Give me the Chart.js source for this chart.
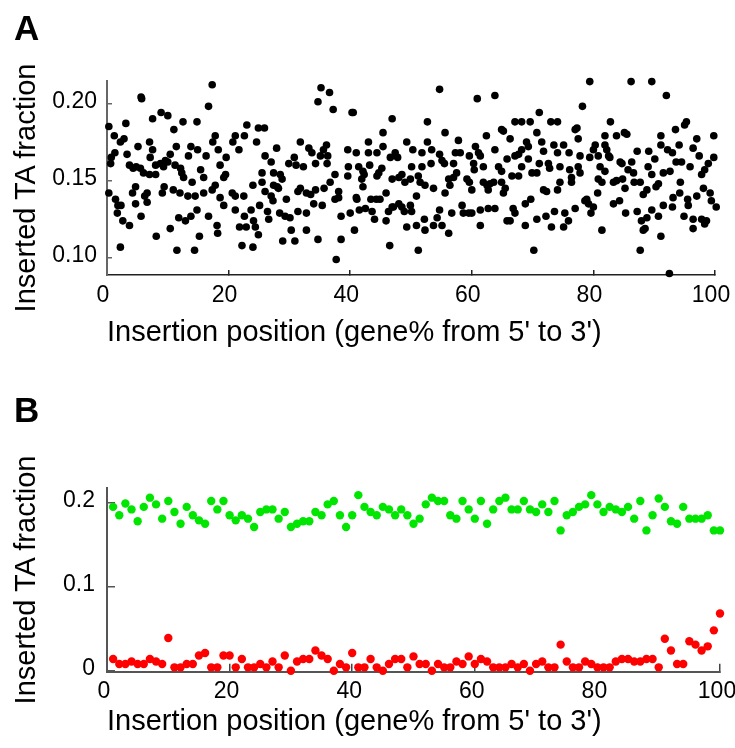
<!DOCTYPE html>
<html><head><meta charset="utf-8">
<script src="https://cdn.jsdelivr.net/npm/chart.js@4/dist/chart.umd.min.js"></script>
<style>
html,body{margin:0;padding:0;background:#fff;}
#wrap{position:relative;width:735px;height:748px;overflow:hidden;font-family:"Liberation Sans",Arial,sans-serif;}
canvas{position:absolute;left:0;}
#cA{top:0}
#cB{top:374px}
.lbl{position:absolute;font-weight:bold;font-size:35px;line-height:1;color:#000}
.ytitle{position:absolute;font-size:29px;line-height:1;white-space:nowrap;transform:translate(-50%,-50%) rotate(-90deg);color:#000}
</style></head><body>
<div id="wrap">
<canvas id="cA" width="735" height="374"></canvas>
<canvas id="cB" width="735" height="374"></canvas>
<div class="lbl" style="left:14px;top:10px">A</div>
<div class="lbl" style="left:14px;top:392px">B</div>
<div class="ytitle" style="left:24.5px;top:188px">Inserted TA fraction</div>
<div class="ytitle" style="left:24.5px;top:580px">Inserted TA fraction</div>
</div>
<script>
// ---------- Panel A: [insertion position (gene %), inserted TA fraction] ----------
const pointsA = [
[0.3,0.185],[1.2,0.179],[2.2,0.175],[2.8,0.177],[3.1,0.187],[5.6,0.204],[5.7,0.203],[17.3,0.212],[16.7,0.198],[7.5,0.190],[8.9,0.194],[10.0,0.192],[11.0,0.183],[12.5,0.188],[14.8,0.188],[17.8,0.179],[17.4,0.175],[7.0,0.175],[5.1,0.172],[11.4,0.172],[13.8,0.172],[14.9,0.170],[18.3,0.170],[1.3,0.168],[0.7,0.165],[0.6,0.161],[3.3,0.167],[3.7,0.160],[4.3,0.158],[4.8,0.159],[5.5,0.158],[6.0,0.155],[7.0,0.154],[8.0,0.154],[7.1,0.165],[7.5,0.170],[8.0,0.160],[8.8,0.161],[9.6,0.163],[10.4,0.167],[9.3,0.159],[10.0,0.162],[11.2,0.160],[12.1,0.158],[12.3,0.155],[12.6,0.152],[13.4,0.166],[14.0,0.149],[15.4,0.157],[15.9,0.152],[16.3,0.166],[18.6,0.160],[19.2,0.152],[0.3,0.142],[1.4,0.138],[1.8,0.134],[2.3,0.134],[1.7,0.129],[4.7,0.146],[4.2,0.142],[4.7,0.135],[6.6,0.142],[6.2,0.140],[6.6,0.136],[5.6,0.127],[2.6,0.124],[3.7,0.121],[9.4,0.146],[9.1,0.142],[10.9,0.144],[12.0,0.142],[13.3,0.140],[14.5,0.140],[15.9,0.142],[17.3,0.144],[17.8,0.147],[18.6,0.139],[19.2,0.134],[11.8,0.126],[12.9,0.124],[13.8,0.127],[14.8,0.131],[16.7,0.127],[18.1,0.121],[18.2,0.116],[10.4,0.119],[8.1,0.114],[15.2,0.114],[2.2,0.107],[11.5,0.105],[14.4,0.105],
[35.2,0.210],[36.6,0.207],[34.7,0.201],[37.2,0.196],[23.0,0.186],[24.9,0.184],[25.9,0.184],[21.1,0.179],[22.6,0.179],[20.7,0.175],[24.6,0.175],[21.7,0.170],[27.9,0.171],[31.8,0.175],[33.2,0.171],[33.7,0.168],[36.1,0.173],[35.6,0.170],[36.3,0.166],[35.1,0.166],[19.6,0.165],[26.0,0.166],[27.0,0.162],[29.9,0.161],[30.8,0.165],[31.1,0.160],[32.3,0.159],[34.3,0.161],[36.2,0.161],[25.5,0.155],[27.4,0.155],[28.5,0.154],[19.5,0.154],[24.0,0.147],[25.5,0.149],[26.0,0.143],[27.4,0.147],[28.0,0.146],[28.8,0.151],[28.2,0.145],[31.8,0.145],[31.4,0.143],[32.8,0.142],[33.5,0.141],[34.3,0.144],[35.7,0.145],[36.7,0.149],[37.5,0.154],[38.1,0.143],[20.6,0.142],[21.1,0.140],[22.5,0.140],[29.5,0.138],[27.3,0.137],[27.0,0.140],[25.1,0.134],[34.0,0.135],[35.4,0.134],[37.5,0.138],[38.1,0.139],[21.1,0.131],[22.6,0.127],[23.7,0.131],[26.4,0.130],[28.4,0.129],[29.3,0.127],[30.1,0.126],[31.4,0.130],[32.8,0.129],[38.5,0.127],[24.1,0.124],[24.4,0.120],[24.9,0.115],[21.8,0.120],[22.9,0.120],[26.6,0.125],[30.3,0.118],[32.8,0.118],[28.9,0.111],[30.9,0.111],[34.7,0.112],[38.5,0.112],[22.2,0.108],[24.0,0.107],[37.7,0.099],
[54.7,0.209],[40.3,0.194],[40.5,0.194],[46.9,0.190],[52.7,0.188],[45.4,0.181],[55.6,0.181],[43.0,0.175],[39.6,0.170],[41.0,0.168],[43.0,0.168],[44.4,0.168],[45.4,0.172],[47.4,0.168],[49.3,0.175],[50.3,0.170],[51.8,0.168],[52.7,0.175],[53.4,0.170],[54.7,0.167],[57.8,0.176],[57.3,0.168],[58.1,0.168],[39.7,0.159],[39.6,0.153],[41.4,0.159],[42.1,0.156],[43.2,0.160],[44.7,0.155],[45.2,0.158],[46.6,0.165],[47.8,0.165],[50.1,0.159],[51.8,0.159],[53.3,0.161],[55.5,0.161],[55.1,0.163],[57.0,0.161],[57.5,0.155],[41.9,0.151],[42.3,0.154],[42.1,0.146],[44.4,0.153],[46.9,0.151],[48.0,0.152],[48.5,0.154],[49.0,0.149],[49.9,0.151],[51.2,0.153],[51.5,0.149],[52.3,0.147],[53.7,0.145],[56.2,0.151],[56.4,0.147],[57.0,0.152],[41.0,0.139],[41.1,0.138],[43.4,0.138],[44.3,0.138],[44.9,0.138],[45.9,0.142],[46.9,0.133],[48.0,0.135],[48.5,0.133],[48.9,0.130],[49.9,0.134],[50.1,0.130],[50.9,0.140],[55.6,0.142],[40.0,0.129],[41.5,0.131],[42.5,0.132],[43.6,0.130],[44.0,0.125],[45.9,0.124],[46.3,0.130],[47.1,0.133],[49.3,0.120],[50.9,0.121],[52.2,0.125],[52.3,0.118],[53.7,0.121],[54.7,0.131],[54.3,0.126],[55.1,0.121],[56.2,0.116],[56.7,0.129],[40.7,0.118],[46.5,0.108],[51.2,0.105],[58.4,0.134],[58.6,0.129],
[60.9,0.203],[63.8,0.205],[71.1,0.194],[78.2,0.198],[67.1,0.188],[68.2,0.188],[69.6,0.188],[73.0,0.188],[74.1,0.188],[64.9,0.183],[65.2,0.182],[70.7,0.181],[62.4,0.179],[66.3,0.177],[77.3,0.184],[77.5,0.177],[77.0,0.183],[60.6,0.172],[61.1,0.168],[61.4,0.166],[59.6,0.166],[63.8,0.170],[69.0,0.175],[69.3,0.172],[68.2,0.170],[67.7,0.167],[67.1,0.166],[71.5,0.175],[71.8,0.169],[73.5,0.173],[75.1,0.173],[74.1,0.168],[76.0,0.168],[77.8,0.166],[60.3,0.161],[60.4,0.157],[61.9,0.159],[64.4,0.159],[64.9,0.156],[65.8,0.164],[68.2,0.159],[69.3,0.164],[71.1,0.161],[72.6,0.161],[72.8,0.158],[74.5,0.159],[76.1,0.157],[76.4,0.152],[77.5,0.159],[77.8,0.155],[59.2,0.151],[59.6,0.149],[61.9,0.149],[62.5,0.147],[62.7,0.144],[63.0,0.148],[63.6,0.149],[64.9,0.149],[65.5,0.145],[65.2,0.142],[66.6,0.153],[67.7,0.153],[69.9,0.155],[70.7,0.155],[74.5,0.149],[76.4,0.149],[60.0,0.144],[71.8,0.144],[72.3,0.143],[74.1,0.144],[59.5,0.129],[60.0,0.129],[61.4,0.131],[61.4,0.121],[62.7,0.132],[63.8,0.132],[66.8,0.132],[67.1,0.129],[68.8,0.135],[69.7,0.138],[65.8,0.124],[66.3,0.124],[68.8,0.121],[70.7,0.125],[72.2,0.127],[73.6,0.130],[75.3,0.129],[75.9,0.124],[75.1,0.120],[77.0,0.132],[73.1,0.120],[70.2,0.105],[78.6,0.137],
[79.4,0.214],[86.2,0.214],[89.6,0.214],[92.0,0.205],[82.8,0.188],[95.3,0.188],[95.0,0.186],[93.5,0.183],[85.5,0.180],[85.1,0.181],[83.8,0.179],[81.9,0.179],[99.8,0.179],[97.0,0.177],[91.1,0.179],[80.3,0.173],[80.0,0.170],[81.9,0.173],[82.2,0.170],[87.2,0.169],[89.1,0.169],[91.1,0.173],[92.2,0.170],[93.0,0.168],[94.1,0.173],[96.4,0.171],[97.4,0.166],[99.8,0.165],[82.5,0.166],[82.7,0.165],[80.8,0.166],[79.4,0.165],[84.4,0.162],[84.7,0.161],[86.3,0.162],[90.1,0.164],[93.6,0.162],[94.5,0.162],[95.9,0.159],[98.9,0.161],[98.3,0.157],[97.8,0.154],[81.1,0.159],[81.9,0.156],[85.7,0.157],[86.6,0.155],[89.0,0.159],[89.6,0.154],[91.5,0.155],[92.6,0.156],[80.8,0.151],[81.4,0.149],[83.3,0.149],[83.8,0.150],[84.8,0.151],[86.7,0.149],[87.7,0.149],[90.7,0.148],[90.3,0.146],[88.8,0.144],[88.2,0.141],[85.2,0.145],[94.3,0.149],[98.1,0.145],[99.2,0.142],[97.0,0.140],[94.2,0.142],[93.1,0.139],[95.5,0.138],[80.7,0.142],[78.9,0.138],[79.2,0.135],[80.0,0.133],[79.6,0.129],[83.3,0.135],[84.3,0.137],[85.3,0.129],[87.2,0.130],[89.6,0.131],[91.5,0.134],[93.0,0.133],[95.6,0.134],[99.4,0.137],[100.2,0.133],[87.9,0.124],[88.8,0.126],[88.5,0.119],[88.2,0.118],[90.7,0.127],[94.9,0.127],[96.4,0.125],[97.8,0.125],[98.6,0.124],[96.4,0.119],[98.3,0.122],[81.4,0.118],[91.1,0.114],[87.7,0.105],[92.5,0.090]
];
const ticksA_x = [0, 20, 40, 60, 80, 100];
const ticksA_y = [0.10, 0.15, 0.20];

// ---------- Panel B ----------
const positionsB = [1,2,3,4,5,6,7,8,9,10,11,12,13,14,15,16,17,18,19,20,21,22,23,24,25,26,27,28,29,30,31,32,33,34,35,36,37,38,39,40,41,42,43,44,45,46,47,48,49,50,51,52,53,54,55,56,57,58,59,60,61,62,63,64,65,66,67,68,69,70,71,72,73,74,75,76,77,78,79,80,81,82,83,84,85,86,87,88,89,90,91,92,93,94,95,96,97,98,99,100];
const fracGreen = [0.195,0.185,0.199,0.192,0.178,0.195,0.206,0.198,0.181,0.202,0.189,0.175,0.195,0.185,0.179,0.175,0.202,0.192,0.202,0.185,0.179,0.185,0.181,0.171,0.189,0.192,0.192,0.181,0.189,0.171,0.175,0.178,0.178,0.189,0.185,0.198,0.202,0.185,0.171,0.185,0.209,0.195,0.189,0.185,0.195,0.192,0.185,0.192,0.185,0.175,0.181,0.198,0.206,0.202,0.202,0.185,0.181,0.202,0.192,0.181,0.202,0.175,0.192,0.202,0.206,0.192,0.192,0.202,0.192,0.189,0.198,0.189,0.202,0.167,0.185,0.189,0.195,0.198,0.209,0.198,0.189,0.195,0.192,0.189,0.195,0.181,0.202,0.167,0.185,0.205,0.195,0.178,0.175,0.195,0.181,0.181,0.181,0.185,0.167,0.167];
const fracRed = [0.014,0.008,0.008,0.011,0.008,0.008,0.014,0.011,0.008,0.039,0.004,0.004,0.008,0.008,0.018,0.021,0.004,0.004,0.018,0.018,0.004,0.014,0.004,0.004,0.008,0.004,0.011,0.004,0.018,0,0.011,0.014,0.014,0.024,0.018,0.014,0,0.008,0.004,0.021,0.004,0.004,0.014,0.004,0,0.008,0.014,0.014,0.004,0.017,0.008,0.008,0,0.008,0.004,0.004,0.011,0.008,0.017,0.008,0.014,0.011,0.004,0.004,0.004,0.008,0.004,0.008,0,0.008,0.011,0.004,0.004,0.031,0.011,0.004,0.004,0.011,0.008,0.004,0.004,0.004,0.011,0.014,0.014,0.011,0.011,0.014,0.014,0.004,0.038,0.024,0.008,0.008,0.035,0.031,0.024,0.029,0.048,0.068];
const ticksB_x = [0, 20, 40, 60, 80, 100];
const ticksB_y = [0, 0.1, 0.2];

const xTitle = "Insertion position (gene% from 5' to 3')";
const FONT = "'Liberation Sans', Arial, Helvetica, sans-serif";

function fitX(h) { return s => { s.height = h; s.paddingLeft = 0; s.paddingRight = 0; }; }
function fitY(w) { return s => { s.width = w; s.paddingTop = 0; s.paddingBottom = 0; }; }
function useTicks(list) { return s => { s.ticks = list.map(v => ({ value: v })); }; }

const common = {
  responsive: false, animation: false, events: [],
  plugins: { legend: { display: false }, tooltip: { enabled: false } }
};

new Chart(document.getElementById('cA'), {
  type: 'scatter',
  data: { datasets: [{
    data: pointsA.map(p => ({ x: p[0], y: p[1] })),
    pointRadius: 3.8, pointHoverRadius: 3.8, backgroundColor: '#000', borderWidth: 0, clip: false
  }] },
  options: Object.assign({}, common, {
    layout: { padding: { left: 0, top: 81, right: 20, bottom: 0 } },
    scales: {
      x: {
        type: 'linear', min: 0, max: 100, afterFit: fitX(99), afterBuildTicks: useTicks(ticksA_x),
        ticks: { font: { family: FONT, size: 23 }, color: '#000', padding: 12, labelOffset: -4, maxRotation: 0, autoSkip: false },
        grid: { drawOnChartArea: false, drawTicks: true, tickLength: -5, color: '#222', lineWidth: 1.5 },
        border: { display: true, color: '#222', width: 1.5 },
        title: { display: true, align: 'start', text: xTitle, color: '#000', font: { family: FONT, size: 29, lineHeight: 1 }, padding: { top: 0, bottom: 27 } }
      },
      y: {
        type: 'linear', min: 0.089, max: 0.2144, afterFit: fitY(107), afterBuildTicks: useTicks(ticksA_y),
        ticks: { font: { family: FONT, size: 23 }, color: '#000', padding: 15, labelOffset: -2, callback: v => v.toFixed(2) },
        grid: { drawOnChartArea: false, drawTicks: true, tickLength: -5, color: '#666', lineWidth: 1.5 },
        border: { display: true, color: '#666', width: 2 }
      }
    }
  })
});

new Chart(document.getElementById('cB'), {
  type: 'scatter',
  data: { datasets: [
    { data: positionsB.map((x, i) => ({ x: x, y: fracGreen[i] })), pointRadius: 4.2, pointHoverRadius: 4.2, backgroundColor: '#00e600', borderWidth: 0, clip: false },
    { data: positionsB.map((x, i) => ({ x: x, y: fracRed[i] })), pointRadius: 4.2, pointHoverRadius: 4.2, backgroundColor: '#ff0000', borderWidth: 0, clip: false }
  ] },
  options: Object.assign({}, common, {
    layout: { padding: { left: 0, top: 114, right: 15, bottom: 0 } },
    scales: {
      x: {
        type: 'linear', min: 0, max: 100, afterFit: fitX(76.3), afterBuildTicks: useTicks(ticksB_x),
        ticks: { font: { family: FONT, size: 23 }, color: '#000', padding: 14, labelOffset: -3, maxRotation: 0, autoSkip: false },
        grid: { drawOnChartArea: false, drawTicks: true, tickLength: -8, color: '#444', lineWidth: 1.5 },
        border: { display: true, color: '#555', width: 2 },
        title: { display: true, align: 'start', text: xTitle, color: '#000', font: { family: FONT, size: 29, lineHeight: 1 }, padding: { top: 0, bottom: 12 } }
      },
      y: {
        type: 'linear', min: -0.0012, max: 0.2175, afterFit: fitY(107), afterBuildTicks: useTicks(ticksB_y),
        ticks: { font: { family: FONT, size: 23 }, color: '#000', padding: 20, labelOffset: -2, callback: v => (Math.abs(v) < 1e-9 ? '0' : v.toFixed(1)) },
        grid: { drawOnChartArea: false, drawTicks: true, tickLength: -8, color: '#555', lineWidth: 1.5 },
        border: { display: true, color: '#555', width: 2 }
      }
    }
  })
});
</script>
</body></html>
